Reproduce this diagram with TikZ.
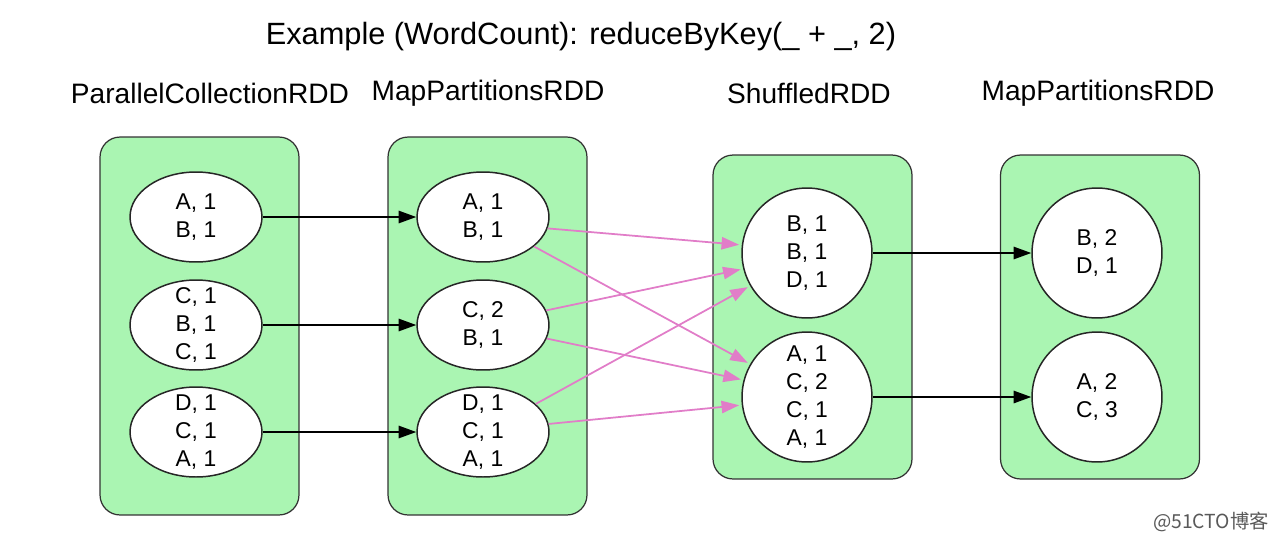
\documentclass[tikz,border=0pt]{standalone}
\usepackage{fontspec}
\setmainfont{Liberation Sans}
\newfontfamily\cjkfont{Noto Sans CJK SC}
\usetikzlibrary{shapes.geometric,arrows.meta}

\definecolor{rddgreen}{RGB}{170,245,178}
\definecolor{shufflepink}{RGB}{225,125,200}

\begin{document}
\begin{tikzpicture}[x=0.02cm, y=-0.02cm,
				partbox/.style={draw=black!80, fill=rddgreen, rounded corners=0.4cm, line width=0.7pt, minimum width=3.98cm},
				pairnode/.style={ellipse, draw=black!85, fill=white, line width=0.85pt, minimum width=2.64cm, minimum height=1.8cm, inner sep=0pt},
				roundnode/.style={circle, draw=black!85, fill=white, line width=0.85pt, minimum size=2.6cm, inner sep=0pt},
				every label/.style={align=center, font=\fontsize{13}{15.9}\selectfont},
				rddname/.style={font=\fontsize{16}{19}\selectfont},
				flow/.style={-{Triangle[length=10pt,width=7pt]}, line width=1pt},
				shuffle/.style={flow, draw=shufflepink, shorten >=1.5pt},
				]
		\useasboundingbox (0,0) rectangle (1268,542);

				%Titles
				\node[font=\fontsize{17.5}{21}\selectfont]	(title)	at (581,37)	{Example (WordCount): reduceByKey(\_ + \_, 2)};
				\node[rddname]	(name1)	at (210,93)		{ParallelCollectionRDD};
				\node[rddname]	(name2)	at (488,93)		{MapPartitionsRDD};
				\node[rddname]	(name3)	at (809,93)		{ShuffledRDD};
				\node[rddname]	(name4)	at (1098,93)	{MapPartitionsRDD};

				%RDDs
				\node[partbox, minimum height=7.56cm]	(rdd1)	at (199.5,326)	{};
				\node[partbox, minimum height=7.56cm]	(rdd2)	at (487.5,326)	{};
				\node[partbox, minimum height=6.48cm]	(rdd3)	at (812.5,317)	{};
				\node[partbox, minimum height=6.48cm]	(rdd4)	at (1100,317)	{};

				%Partitions
				\node[pairnode, label={center:A, 1\\B, 1}]			(p1)	at (196,217)	{};
				\node[pairnode, label={center:C, 1\\B, 1\\C, 1}]	(p2)	at (196,325)	{};
				\node[pairnode, label={center:D, 1\\C, 1\\A, 1}]	(p3)	at (196,432)	{};
				\node[pairnode, label={center:A, 1\\B, 1}]			(m1)	at (483,217)	{};
				\node[pairnode, label={center:C, 2\\B, 1}]			(m2)	at (483,325)	{};
				\node[pairnode, label={center:D, 1\\C, 1\\A, 1}]	(m3)	at (483,432)	{};
				\node[roundnode, label={center:B, 1\\B, 1\\D, 1}]	(s1)	at (807,253)	{};
				\node[roundnode, label={center:A, 1\\C, 2\\C, 1\\A, 1}]	(s2)	at (807,397)	{};
				\node[roundnode, label={center:B, 2\\D, 1}]			(r1)	at (1097,253)	{};
				\node[roundnode, label={center:A, 2\\C, 3}]			(r2)	at (1097,397)	{};

				%Lines
				\draw[flow]	(p1) -- (m1);
				\draw[flow]	(p2) -- (m2);
				\draw[flow]	(p3) -- (m3);
				\draw[flow]	(s1) -- (r1);
				\draw[flow]	(s2) -- (r2);

				\draw[shuffle]	(m1.-10) -- (s1.173);
				\draw[shuffle]	(m1.-30) -- (s2.150);
				\draw[shuffle]	(m2.13) -- (s1.194);
				\draw[shuffle]	(m2.-12) -- (s2.165);
				\draw[shuffle]	(m3.28) -- (s1.210);
				\draw[shuffle]	(m3.7) -- (s2.187);

				\node[text=black!65, font=\cjkfont\fontsize{11}{13}\selectfont]	(mark)	at (1211,522)	{@51CTO博客};
\end{tikzpicture}
\end{document}
